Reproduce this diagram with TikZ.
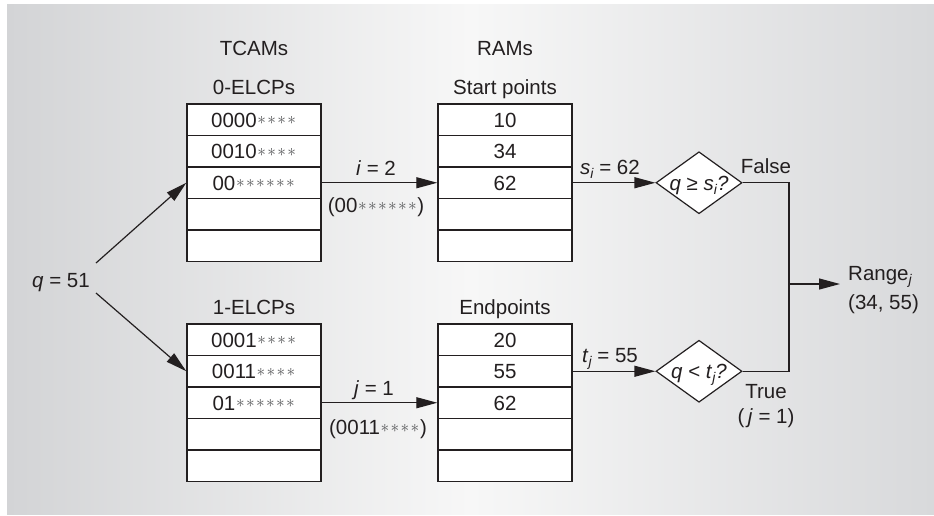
\documentclass[tikz,border=0pt]{standalone}
\usepackage{fontspec}
\setmainfont{Liberation Sans}
\usetikzlibrary{arrows.meta,shapes.geometric,calc}
\definecolor{ink}{HTML}{231F20}
\definecolor{stargray}{HTML}{555658}
\definecolor{bgside}{HTML}{D3D4D6}
\definecolor{bgright}{HTML}{D8D9DB}
\definecolor{bgmid}{HTML}{F7F7F7}
\newcommand\sta{\makebox[10pt]{\raisebox{2.2pt}{\color{stargray}\fontsize{19}{19}\selectfont$\ast$}}}
\newcommand\isub[1]{\raisebox{-4pt}{\fontsize{14}{14}\selectfont\itshape #1}}
\begin{document}
\begin{tikzpicture}[x=1pt,y=-1pt,font=\fontsize{20.5}{24}\selectfont,text=ink,
  lbl/.style={inner sep=0pt,text height=14.7pt,text depth=0pt},
  cell/.style={draw=ink,fill=white,line width=1.4pt,minimum width=134pt,minimum height=31.5pt,inner sep=0pt,text height=14.7pt,text depth=0pt},
  conn/.style={draw=ink,line width=1.2pt},
  arr/.style={conn,-{Triangle[length=21pt,width=11pt]}},
  dia/.style={diamond,draw=ink,fill=white,line width=1.2pt,minimum width=86pt,minimum height=62pt,inner sep=0pt}]
\useasboundingbox (0,0) rectangle (934,515);
\shade[left color=bgside,right color=bgright,middle color=bgmid] (7,4) rectangle (934,514);
% headers
\node[lbl] (tcamh) at (254,48) {TCAMs};
\node[lbl] (ramh) at (505,48) {RAMs};
\node[lbl] (e0h) at (254,87) {0-ELCPs};
\node[lbl] (sph) at (505,87) {Start points};
\node[lbl] (e1h) at (254,307) {1-ELCPs};
\node[lbl] (eph) at (505,307) {Endpoints};
% top TCAM
\node[cell] (ta1) at (254,119.75) {0000\sta\sta\sta\sta};
\node[cell] (ta2) at (254,151.25) {0010\sta\sta\sta\sta};
\node[cell] (ta3) at (254,182.75) {00\sta\sta\sta\sta\sta\sta};
\node[cell] (ta4) at (254,214.25) {};
\node[cell] (ta5) at (254,245.75) {};
% top RAM
\node[cell] (ra1) at (505,119.75) {10};
\node[cell] (ra2) at (505,151.25) {34};
\node[cell] (ra3) at (505,182.75) {62};
\node[cell] (ra4) at (505,214.25) {};
\node[cell] (ra5) at (505,245.75) {};
% bottom TCAM
\node[cell] (tb1) at (254,339.75) {0001\sta\sta\sta\sta};
\node[cell] (tb2) at (254,371.25) {0011\sta\sta\sta\sta};
\node[cell] (tb3) at (254,402.75) {01\sta\sta\sta\sta\sta\sta};
\node[cell] (tb4) at (254,434.25) {};
\node[cell] (tb5) at (254,465.75) {};
% bottom RAM
\node[cell] (rb1) at (505,339.75) {20};
\node[cell] (rb2) at (505,371.25) {55};
\node[cell] (rb3) at (505,402.75) {62};
\node[cell] (rb4) at (505,434.25) {};
\node[cell] (rb5) at (505,465.75) {};
% query
\node[lbl] (q) at (61,280) {\textit{q} = 51};
\coordinate (qa) at (96,263);
\coordinate (qb) at (96,293);
\draw[arr] (qa) -- (ta3.west);
\draw[arr] (qb) -- (tb2.west);
% TCAM -> RAM
\draw[arr] (ta3.east) -- (ra3.west);
\node[lbl] (il) at (376,168) {\textit{i} = 2};
\node[lbl] (im) at (376,205) {(00\sta\sta\sta\sta\sta\sta)};
\draw[arr] (tb3.east) -- (rb3.west);
\node[lbl] (jl) at (374,388) {\textit{j} = 1};
\node[lbl] (jm) at (378,427) {(0011\sta\sta\sta\sta)};
% diamonds
\node[dia] (d1) at (699,182.75) {};
\node[lbl] (d1t) at (699,182.75) {\textit{q} ≥ \textit{s}\isub{i}\textit{?}};
\node[dia] (d2) at (699,371.25) {};
\node[lbl] (d2t) at (699,371.25) {\textit{q} < \textit{t}\isub{j}\textit{?}};
\draw[arr] (ra3.east) -- (d1.west);
\node[lbl] (sl) at (610,167) {\textit{s}\isub{i} = 62};
\draw[arr] (rb2.east) -- (d2.west);
\node[lbl] (tl) at (610,355) {\textit{t}\isub{j} = 55};
% join
\coordinate (jn) at (789,284);
\draw[conn] (d1.east) -| (jn);
\draw[conn] (d2.east) -| (jn);
\node[lbl] (fl) at (766,166) {False};
\node[lbl] (trl) at (766,391) {True};
\node[lbl] (trj) at (766,416) {(\,\textit{j} = 1)};
\node[lbl,anchor=west] (rg1) at (848,273) {Range\isub{j}};
\node[lbl,anchor=west] (rg2) at (848,302) {(34, 55)};
\draw[arr,shorten >=8pt] (jn) -- (jn -| rg2.west);
\end{tikzpicture}
\end{document}
